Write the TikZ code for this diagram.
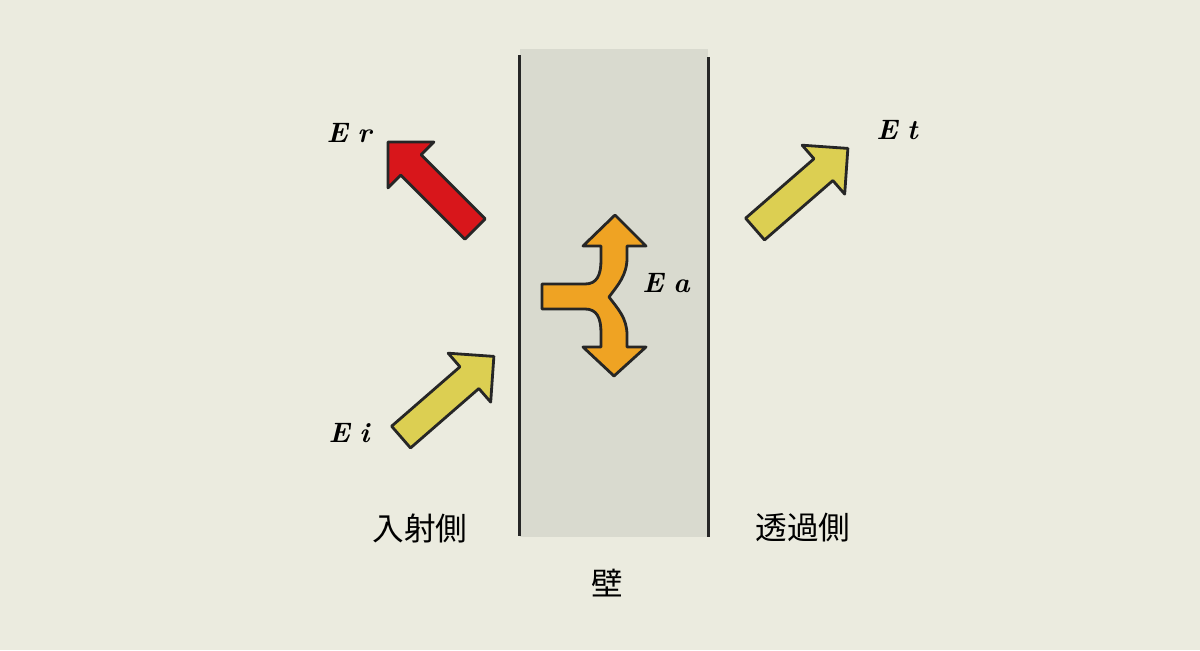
\documentclass[tikz,border=0pt]{standalone}
\usepackage{fontspec}
\usetikzlibrary{shapes.arrows}
\newfontfamily\jp{Noto Sans CJK JP}
\definecolor{paper}{HTML}{EBEBDF}
\definecolor{wallgrey}{HTML}{D9DACF}
\definecolor{reflred}{HTML}{D8161B}
\definecolor{waveyellow}{HTML}{DCCF52}
\definecolor{absorange}{HTML}{EFA323}
\newcommand{\field}[1]{\fontsize{16}{18}\selectfont\bfseries\itshape E\,\,#1}
\newcommand{\side}[1]{\jp\fontsize{18}{20}\selectfont #1}
\tikzset{
	blockarrow/.style={single arrow, draw=black!85, line width=1.6pt,
		line join=round, inner sep=0.26cm, minimum height=2.46cm,
		single arrow head extend=0.36cm, anchor=tail},
}

\begin{document}
\begin{tikzpicture}[x=0.02cm, y=-0.02cm]
	\fill [paper] (0,0) rectangle (1200,650);
	\useasboundingbox (0,0) rectangle (1200,650);
	% wall
	\fill [wallgrey] (520,49) rectangle (708,537);
	\draw [line width=1.7pt, black!85] (519,55) -- (519,536);
	\draw [line width=1.7pt, black!85] (708,57) -- (708,537);
	% incident, reflected, transmitted
	\node [blockarrow, fill=waveyellow, rotate=41] (1) at (400,438) {};
	\node [blockarrow, fill=reflred, rotate=135] (2) at (476,230) {};
	\node [blockarrow, fill=waveyellow, rotate=41] (3) at (754,230) {};
	% absorbed
	\draw [fill=absorange, draw=black!85, line width=1.6pt, line join=round]
		(542,284) -- (585,284) 
		.. controls (597,284) and (601,275) .. (601,260) 
		-- (601,246) -- (583,246) -- (615,215) -- (646,246) -- (627,246) 
		-- (627,258) 
		.. controls (627,275) and (618,285) .. (609,297) 
		.. controls (618,309) and (627,318) .. (627,335) 
		-- (627,347) -- (646,347) -- (614,376) -- (583,347) -- (601,347) 
		-- (601,333) 
		.. controls (601,318) and (597,309) .. (585,309) 
		-- (542,309) -- cycle;
	% labels
	\node (Er) at (349,133) {\field{r}};
	\node (Ei) at (349,433) {\field{i}};
	\node (Et) at (897,130) {\field{t}};
	\node (Ea) at (666,283) {\field{a}};
	\node (in) at (420,528) {\side{入射側}};
	\node (out) at (803,528) {\side{透過側}};
	\node (wall) at (607,583) {\side{壁}};
\end{tikzpicture}
\end{document}
